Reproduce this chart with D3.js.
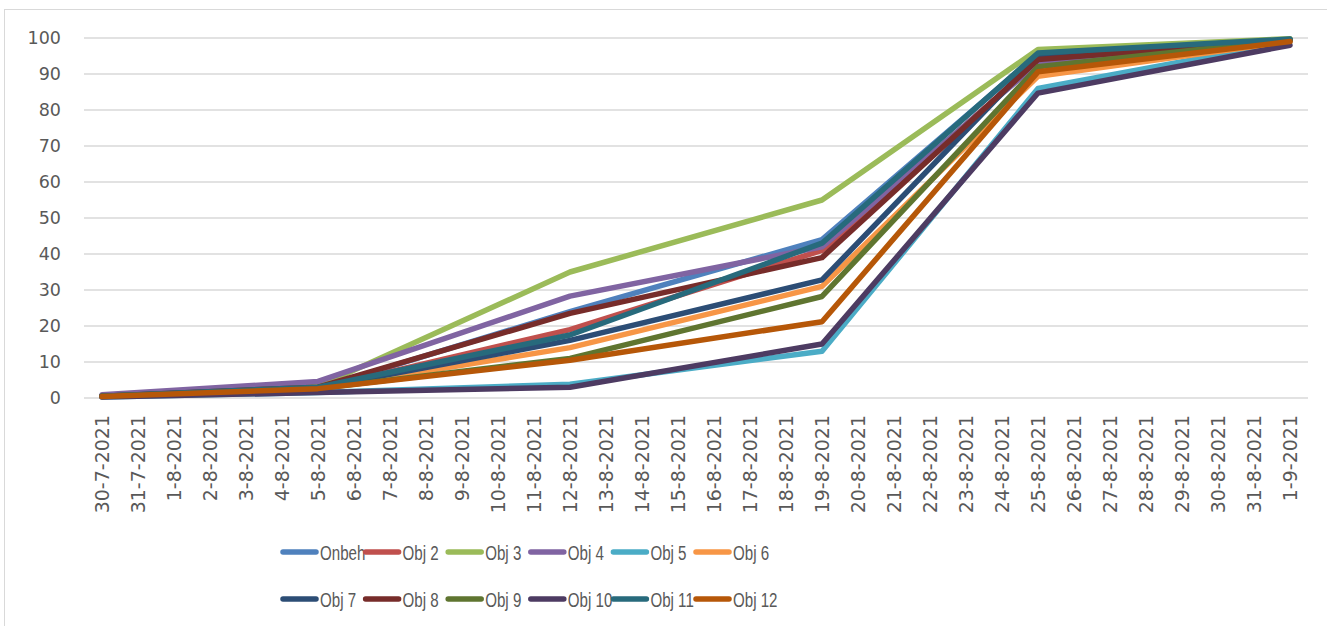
<!DOCTYPE html>
<html>
<head>
<meta charset="utf-8">
<script src="https://cdn.jsdelivr.net/npm/d3@7"></script>
<style>
  html, body { margin: 0; padding: 0; background: #fff; }
  svg { display: block; }
</style>
</head>
<body>
<svg id="chart" width="1327" height="626"></svg>
<script>
// Category axis: every day from 30 July to 1 September 2021
const dates = [
  "30-7-2021","31-7-2021","1-8-2021","2-8-2021","3-8-2021","4-8-2021","5-8-2021",
  "6-8-2021","7-8-2021","8-8-2021","9-8-2021","10-8-2021","11-8-2021","12-8-2021",
  "13-8-2021","14-8-2021","15-8-2021","16-8-2021","17-8-2021","18-8-2021","19-8-2021",
  "20-8-2021","21-8-2021","22-8-2021","23-8-2021","24-8-2021","25-8-2021","26-8-2021",
  "27-8-2021","28-8-2021","29-8-2021","30-8-2021","31-8-2021","1-9-2021"
];

// Days on which a measurement was taken
const measuredDates = ["30-7-2021","5-8-2021","12-8-2021","19-8-2021","25-8-2021","1-9-2021"];

const seriesNames = ["Onbeh","Obj 2","Obj 3","Obj 4","Obj 5","Obj 6",
                     "Obj 7","Obj 8","Obj 9","Obj 10","Obj 11","Obj 12"];

// Cumulative percentage per series on the measured days
const onbeh = [0.5, 2.6, 24.0, 44.0, 95.5, 99.5];
const obj2  = [0.5, 2.6, 19.0, 41.0, 93.5, 99.5];
const obj3  = [0.5, 3.2, 35.0, 55.0, 96.8, 99.8];
const obj4  = [0.9, 4.6, 28.3, 42.0, 93.0, 99.5];
const obj5  = [0.3, 1.5,  3.8, 13.0, 86.0, 99.0];
const obj6  = [0.5, 2.6, 14.0, 31.0, 89.4, 99.0];
const obj7  = [0.5, 2.8, 16.0, 32.8, 95.0, 99.5];
const obj8  = [0.5, 3.0, 23.5, 39.0, 94.0, 99.5];
const obj9  = [0.5, 2.6, 11.0, 28.2, 92.0, 99.5];
const obj10 = [0.3, 1.5,  3.0, 15.0, 84.7, 98.0];
const obj11 = [0.5, 3.0, 17.5, 43.0, 95.8, 99.7];
const obj12 = [0.4, 2.6, 10.5, 21.2, 90.6, 99.0];

const seriesValues = [onbeh, obj2, obj3, obj4, obj5, obj6, obj7, obj8, obj9, obj10, obj11, obj12];

const seriesColors = ["#4F81BD","#C0504D","#9BBB59","#8064A2","#4BACC6","#F79646",
                      "#2C4D75","#772C2A","#5F7530","#4D3B62","#276A7C","#B65708"];

const yTicks = [0,10,20,30,40,50,60,70,80,90,100];

const svg = d3.select("#chart");
const W = 1327, H = 626;
const plot = { left: 84, right: 1308, top: 38, bottom: 398 };

// chart frame
svg.append("rect")
  .attr("x", 4.5).attr("y", 9.5)
  .attr("width", W + 10).attr("height", H + 10)
  .attr("fill", "none").attr("stroke", "#d9d9d9").attr("stroke-width", 1);

const x = d3.scaleBand().domain(dates).range([plot.left, plot.right]);
const y = d3.scaleLinear().domain([0, 100]).range([plot.bottom, plot.top]);
const xc = d => x(d) + x.bandwidth() / 2;

// horizontal gridlines
svg.append("g").selectAll("line").data(yTicks).join("line")
  .attr("x1", plot.left).attr("x2", plot.right)
  .attr("y1", d => y(d)).attr("y2", d => y(d))
  .attr("stroke", "#d9d9d9").attr("stroke-width", 1.3);

// y axis labels
const yAxis = d3.axisLeft(y).tickValues(yTicks).tickSize(0).tickPadding(0);
const gy = svg.append("g").attr("transform", `translate(${plot.left - 23},0)`).call(yAxis);
gy.select(".domain").remove();
gy.selectAll("text")
  .attr("fill", "#595959")
  .style("font-family", "'DejaVu Sans', sans-serif")
  .style("font-size", "17.5px");

// x axis labels, rotated
const xAxis = d3.axisBottom(x).tickSize(0).tickPadding(0);
const gx = svg.append("g").attr("transform", `translate(0,${plot.bottom})`).call(xAxis);
gx.select(".domain").remove();
gx.selectAll("text")
  .attr("fill", "#595959")
  .style("font-family", "'DejaVu Sans', sans-serif")
  .style("font-size", "19px")
  .attr("text-anchor", "end")
  .attr("dy", "0.35em")
  .attr("transform", "translate(0,17) rotate(-90)")
  .attr("x", 0).attr("y", 0);

// series lines
const line = d3.line()
  .x(d => xc(d.date))
  .y(d => y(d.value));

const series = seriesNames.map((name, i) => ({
  name,
  color: seriesColors[i],
  points: measuredDates.map((dt, j) => ({ date: dt, value: seriesValues[i][j] }))
}));

svg.append("g").selectAll("path").data(series).join("path")
  .attr("d", d => line(d.points))
  .attr("fill", "none")
  .attr("stroke", d => d.color)
  .attr("stroke-width", 5.5)
  .attr("stroke-linejoin", "round")
  .attr("stroke-linecap", "round");

// legend: two rows of six
const legend = svg.append("g");
const colX = i => 283 + (i % 6) * 82.6;
const rowY = i => i < 6 ? 552 : 599;
const items = legend.selectAll("g").data(series).join("g")
  .attr("transform", (d, i) => `translate(${colX(i)},${rowY(i)})`);
items.append("line")
  .attr("x1", 0).attr("x2", 33).attr("y1", 0).attr("y2", 0)
  .attr("stroke", d => d.color).attr("stroke-width", 5.5)
  .attr("stroke-linecap", "round");
items.append("text")
  .attr("transform", "translate(37,0) scale(0.72,1)")
  .attr("dy", "0.36em")
  .attr("fill", "#595959")
  .style("font-family", "'Liberation Sans', Arial, sans-serif")
  .style("font-size", "21px")
  .text(d => d.name);
</script>
</body>
</html>
